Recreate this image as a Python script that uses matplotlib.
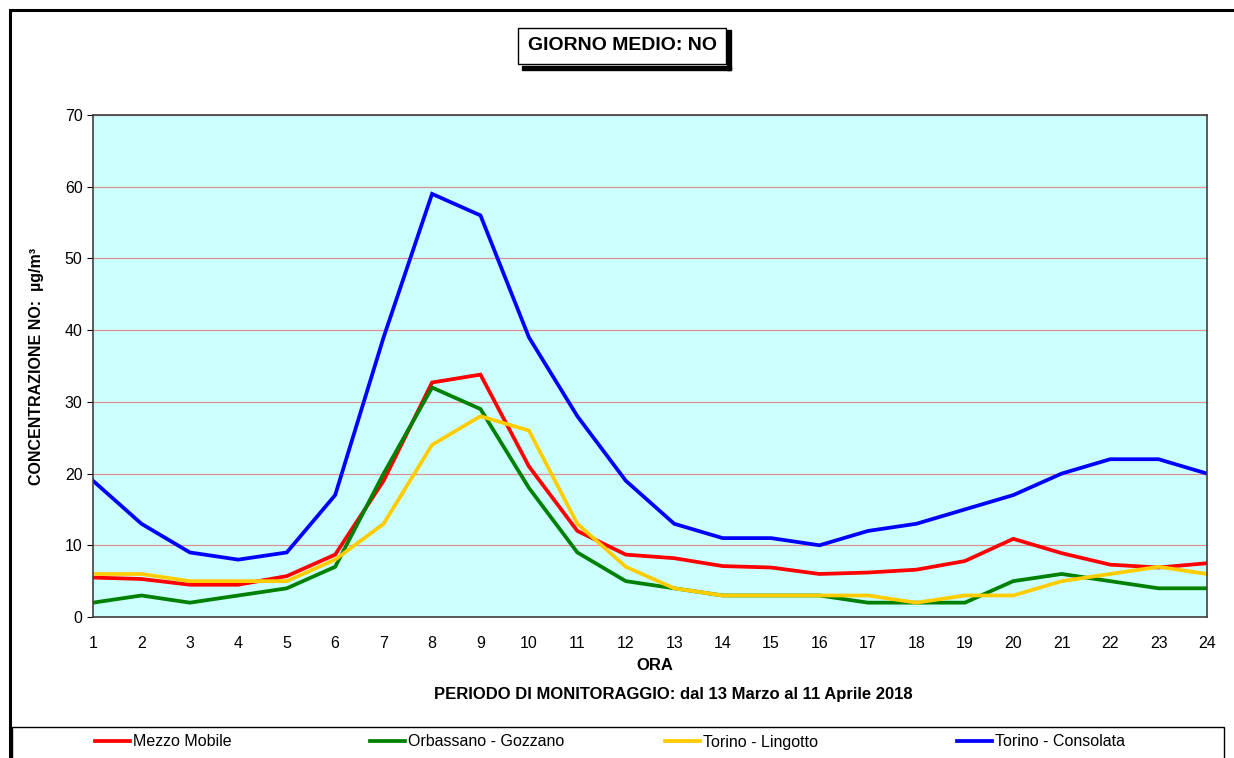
import matplotlib.pyplot as plt
from matplotlib.patches import Rectangle

plt.rcParams['font.family'] = ['Liberation Sans', 'DejaVu Sans']

ore = list(range(1, 25))
mezzo_mobile = [5.5, 5.3, 4.5, 4.5, 5.7, 8.7, 19, 32.7, 33.8, 21, 12, 8.7,
                8.2, 7.1, 6.9, 6.0, 6.2, 6.6, 7.8, 10.9, 8.9, 7.3, 6.9, 7.5]
orbassano = [2, 3, 2, 3, 4, 7, 20, 32, 29, 18, 9, 5,
             4, 3, 3, 3, 2, 2, 2, 5, 6, 5, 4, 4]
lingotto = [6, 6, 5, 5, 5, 8, 13, 24, 28, 26, 13, 7,
            4, 3, 3, 3, 3, 2, 3, 3, 5, 6, 7, 6]
consolata = [19, 13, 9, 8, 9, 17, 39, 59, 56, 39, 28, 19,
             13, 11, 11, 10, 12, 13, 15, 17, 20, 22, 22, 20]

serie = [
    ("Mezzo Mobile", mezzo_mobile, "#FF0000"),
    ("Orbassano - Gozzano", orbassano, "#008000"),
    ("Torino - Lingotto", lingotto, "#FFCC00"),
    ("Torino - Consolata", consolata, "#0000FF"),
]

W, H = 1234, 758
fig = plt.figure(figsize=(W / 100, H / 100), dpi=100)

# outer border of the chart
fig.patches.append(Rectangle((10 / W, -0.01), 1.2, 1 - 10 / H + 0.01,
                             transform=fig.transFigure, fill=False,
                             edgecolor="black", linewidth=2.2))

ax = fig.add_axes([93 / W, 1 - 617 / H, (1207 - 93) / W, (617 - 115) / H])
ax.set_facecolor("#CCFFFF")

for nome, valori, colore in serie:
    ax.plot(ore, valori, color=colore, linewidth=2.7, label=nome,
            solid_joinstyle="miter")

ax.set_xlim(1, 24)
ax.set_ylim(0, 70)
ax.set_xticks(ore)
ax.set_yticks(range(0, 71, 10))
ax.tick_params(axis="x", length=0, pad=14, labelsize=11.5)
ax.tick_params(axis="y", length=4, direction="out", labelsize=11.5)
ax.yaxis.grid(True, color="#E09090", linewidth=0.9)
ax.set_axisbelow(True)
for s in ax.spines.values():
    s.set_color("#404040")
    s.set_linewidth(1.2)

fig.text(37 / W, 1 - 366 / H, "CONCENTRAZIONE NO:  µg/m³", rotation=90,
         ha="center", va="center", fontsize=11.5, fontweight="bold")
fig.text(655 / W, 1 - 665 / H, "ORA", ha="center", va="center",
         fontsize=12, fontweight="bold")
fig.text(673 / W, 1 - 695 / H,
         "PERIODO DI MONITORAGGIO: dal 13 Marzo al 11 Aprile 2018",
         ha="center", va="center", fontsize=12, fontweight="bold")

# title box with shadow
fig.text(622 / W, 1 - 46 / H, "GIORNO MEDIO: NO", ha="center", va="center",
         fontsize=14, fontweight="bold",
         bbox=dict(boxstyle="square,pad=0.5", facecolor="white",
                   edgecolor="black", linewidth=1.0))
fig.patches.append(Rectangle((522 / W, 1 - 70 / H), 209 / W, 4 / H,
                             transform=fig.transFigure, color="black", zorder=0))
fig.patches.append(Rectangle((727 / W, 1 - 70 / H), 4 / W, 40 / H,
                             transform=fig.transFigure, color="black", zorder=0))

# legend box
fig.patches.append(Rectangle((12 / W, -0.01), (1224 - 12) / W, 1 - 727 / H + 0.01,
                             transform=fig.transFigure, fill=False,
                             edgecolor="black", linewidth=1.0))
handles, labels = ax.get_legend_handles_labels()
x_legenda = [95, 370, 665, 957]
for h, l, xl in zip(handles, labels, x_legenda):
    fig.legend([h], [l], frameon=False, fontsize=11.5,
               loc="center left", bbox_to_anchor=(xl / W, 1 - 742 / H),
               handlelength=2.2, handletextpad=0.15, borderaxespad=0,
               borderpad=0)

fig.savefig("out.png", dpi=100)
